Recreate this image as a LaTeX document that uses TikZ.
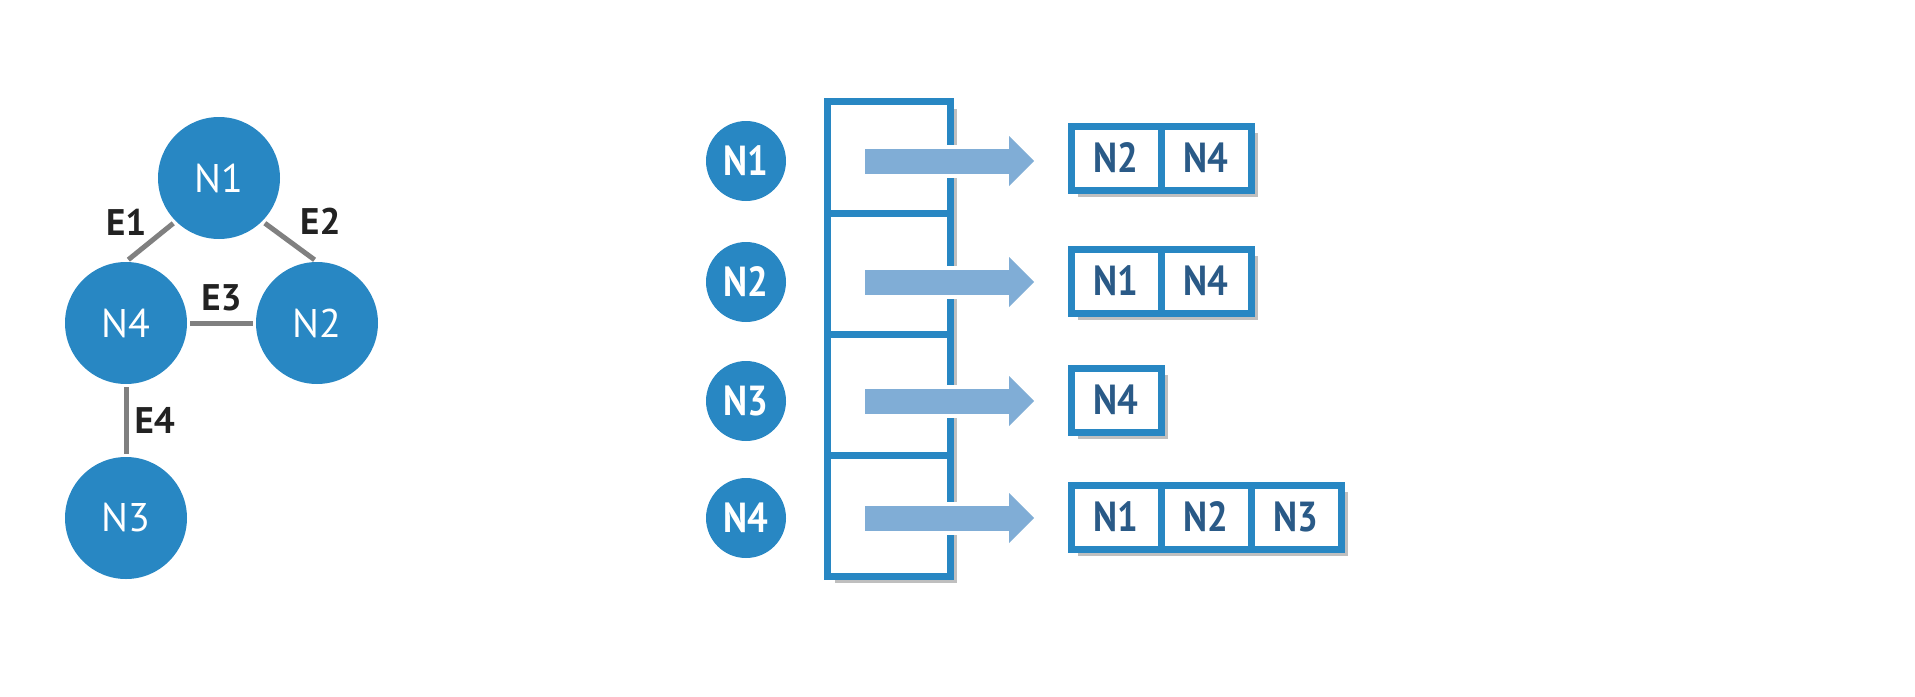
\documentclass[tikz,border=0pt]{standalone}
\usepackage{fontspec}
\setmainfont{PT Sans}
\newfontfamily\narrowfont[FakeStretch=0.87]{PT Sans}
\usetikzlibrary{positioning,shadows,arrows.meta}
\definecolor{nodeblue}{RGB}{40,135,195}
\definecolor{arrowblue}{RGB}{128,173,214}
\definecolor{listtext}{RGB}{42,90,135}
\definecolor{edgegray}{RGB}{128,128,128}
\definecolor{labeldark}{RGB}{34,34,34}
\begin{document}
\begin{tikzpicture}[x=0.5pt, y=-0.5pt, node distance=0pt,
  vertex/.style={circle, fill=nodeblue, text=white, minimum size=61pt, inner sep=0pt, font=\fontsize{20}{20}\selectfont},
  smallvertex/.style={circle, fill=nodeblue, text=white, minimum size=40pt, inner sep=0pt, font=\narrowfont\bfseries\fontsize{21}{21}\selectfont},
  link/.style={draw=edgegray, line width=2.5pt, shorten <=1.5pt, shorten >=1.5pt},
  elabel/.style={text=labeldark, inner sep=1pt, font=\bfseries\fontsize{18.5}{18.5}\selectfont},
  shadowed/.style={drop shadow={shadow xshift=3.5pt, shadow yshift=-3.5pt, fill=black, opacity=0.25}},
  arraycell/.style={draw=nodeblue, fill=white, line width=3.5pt, outer sep=0pt, minimum width=61.25pt, minimum height=60.5pt, shadowed},
  listcell/.style={draw=nodeblue, fill=white, line width=3.5pt, outer sep=0pt, inner sep=0pt, minimum width=45pt, minimum height=32pt, text=listtext, font=\narrowfont\bfseries\fontsize{21}{21}\selectfont, shadowed},
  pointer/.style={draw=arrowblue, line width=12.5pt, shorten <=18.75pt, shorten >=18.5pt, -{Triangle[length=12.5pt, width=25pt, line width=0pt]}, preaction={draw=white, line width=16.5pt}}]
  \useasboundingbox (0,0) rectangle (1915,696);
  \node[vertex] (n1) at (219,178) {N1};
  \node[vertex] (n4) at (126,323) {N4};
  \node[vertex] (n2) at (317,323) {N2};
  \node[vertex] (n3) at (126,518) {N3};
  \draw[link] (n1.225) -- node[elabel, above left=1pt and 0pt] {E1} (n4.north);
  \draw[link] (n1.-45) -- node[elabel, above right=1.5pt and 3pt] {E2} (n2.north);
  \draw[link] (n4.east) -- node[elabel, above=3.5pt] {E3} (n2.west);
  \draw[link] (n4.south) -- node[elabel, right=2pt] {E4} (n3.north);
  \node[smallvertex] (c1) at (746,161) {N1};
  \node[smallvertex] (c2) at (746,282) {N2};
  \node[smallvertex] (c3) at (746,401) {N3};
  \node[smallvertex] (c4) at (746,518) {N4};
  \node[arraycell, minimum height=55.75pt] (a1) at (888.75,157.25) {};
  \node[arraycell, below=of a1] (a2) {};
  \node[arraycell, below=of a2] (a3) {};
  \node[arraycell, below=of a3] (a4) {};
  \node[listcell] (l11) at (1116,158) {N2};
  \node[listcell, right=of l11] (l12) {N4};
  \node[listcell] (l21) at (1116,281) {N1};
  \node[listcell, right=of l21] (l22) {N4};
  \node[listcell] (l31) at (1116,400) {N4};
  \node[listcell] (l41) at (1116,517) {N1};
  \node[listcell, right=of l41] (l42) {N2};
  \node[listcell, right=of l42] (l43) {N3};
  \draw[pointer] (c1 -| a1.west) -- (c1 -| l11.west);
  \draw[pointer] (c2 -| a2.west) -- (c2 -| l21.west);
  \draw[pointer] (c3 -| a3.west) -- (c3 -| l31.west);
  \draw[pointer] (c4 -| a4.west) -- (c4 -| l41.west);
\end{tikzpicture}
\end{document}
